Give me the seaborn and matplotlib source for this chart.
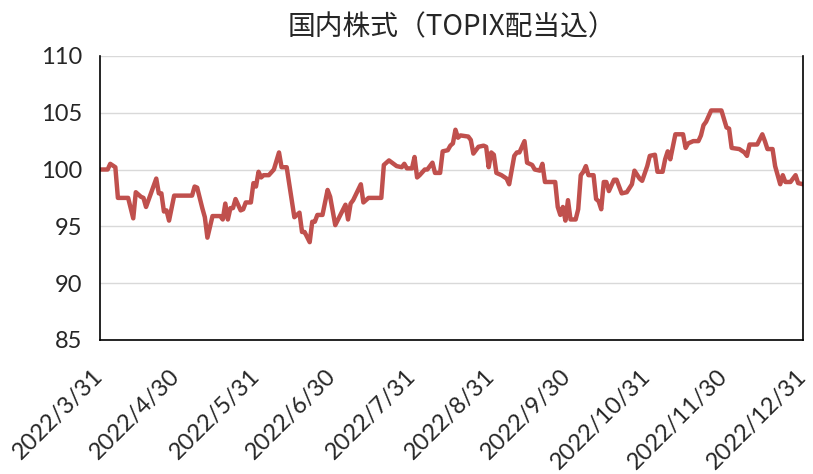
import matplotlib
matplotlib.use("Agg")
import matplotlib.pyplot as plt
import seaborn as sns
import pandas as pd

# days after 2022/3/31 and index level
days = [0, 3, 4, 6, 7, 11, 13, 14, 16, 17, 18, 22, 23, 24, 25, 26, 27, 29, 36, 37,
        38, 40, 41, 42, 44, 47, 48, 49, 50, 51, 52, 53, 55, 56, 57, 59, 60, 61, 62, 63,
        64, 66, 68, 70, 71, 73, 75, 76, 78, 79, 80, 82, 83, 84, 85, 87, 89, 90, 92, 96,
        97, 98, 99, 102, 103, 105, 110, 111, 113, 116, 118, 119, 120, 122, 123, 124, 125, 127, 128, 130,
        131, 133, 134, 136, 137, 138, 139, 140, 141, 144, 145, 146, 148, 150, 151, 152, 153, 154, 155, 157,
        159, 160, 162, 163, 164, 166, 167, 169, 170, 172, 173, 174, 178, 179, 180, 181, 182, 183, 184, 186,
        187, 188, 189, 190, 191, 193, 194, 195, 196, 197, 198, 199, 201, 202, 203, 204, 206, 208, 209, 211,
        212, 214, 215, 217, 218, 220, 221, 222, 223, 225, 228, 229, 230, 232, 234, 235, 236, 237, 239, 243,
        245, 246, 247, 250, 252, 253, 254, 257, 259, 260, 261, 263, 264, 266, 267, 268, 270, 272, 273, 275]
values = [100.0, 100.0, 100.5, 100.2, 97.5, 97.5, 95.7, 98.0, 97.6, 97.5, 96.7, 99.2, 97.9, 97.9, 96.3, 96.4, 95.5, 97.7, 97.7, 98.5,
          98.4, 96.6, 95.8, 94.0, 95.9, 95.9, 95.6, 97.0, 95.6, 96.6, 96.6, 97.4, 96.4, 96.5, 97.1, 97.1, 98.8, 98.5, 99.8, 99.3,
          99.5, 99.5, 100.0, 101.5, 100.2, 100.2, 97.3, 95.8, 96.2, 94.5, 94.5, 93.6, 95.4, 95.4, 96.0, 96.0, 98.2, 97.6, 95.1, 96.9,
          95.6, 97.0, 97.3, 98.7, 97.1, 97.5, 97.5, 100.4, 100.8, 100.3, 100.2, 100.5, 100.1, 100.1, 101.1, 99.3, 99.5, 100.0, 100.0, 100.6,
          99.7, 99.7, 101.6, 101.7, 102.1, 102.3, 103.5, 102.8, 103.0, 102.9, 102.6, 101.4, 102.0, 102.1, 102.0, 100.2, 101.5, 101.3, 99.7, 99.5,
          99.2, 98.7, 101.2, 101.5, 101.5, 102.5, 100.6, 100.4, 100.0, 99.9, 100.5, 98.9, 98.9, 96.7, 96.0, 96.7, 95.5, 97.3, 95.6, 95.6,
          96.5, 99.5, 99.8, 100.3, 99.5, 99.5, 97.4, 97.2, 96.5, 98.9, 98.9, 98.1, 99.1, 99.1, 98.5, 97.9, 98.0, 98.7, 99.9, 99.2,
          99.0, 100.3, 101.2, 101.3, 99.8, 99.8, 100.9, 101.6, 100.9, 103.1, 103.1, 101.9, 102.3, 102.5, 102.5, 103.0, 103.9, 104.2, 105.2, 105.2,
          103.7, 103.6, 101.9, 101.8, 101.5, 101.2, 102.2, 102.2, 103.1, 102.5, 101.8, 101.8, 100.3, 98.7, 99.5, 98.9, 98.9, 99.5, 98.8, 98.7]

tick_dates = ["2022-03-31", "2022-04-30", "2022-05-31", "2022-06-30", "2022-07-31",
              "2022-08-31", "2022-09-30", "2022-10-31", "2022-11-30", "2022-12-31"]

start = pd.Timestamp("2022-03-31")
df = pd.DataFrame({"date": start + pd.to_timedelta(days, unit="D"), "value": values})

sns.set_style("white")
plt.rcParams["font.family"] = ["Lato", "Noto Sans CJK JP", "DejaVu Sans"]

fig = plt.figure(figsize=(8.13, 4.74), dpi=100)
ax = fig.add_axes([0.123, 0.283, 0.865, 0.599])

sns.lineplot(data=df, x="date", y="value", ax=ax, color="#C0504D", linewidth=3.2)

ax.set_ylim(85, 110)
ax.set_yticks(range(85, 111, 5))
ax.set_xlim(pd.Timestamp(tick_dates[0]), pd.Timestamp(tick_dates[-1]))
ticks = pd.to_datetime(tick_dates)
ax.set_xticks(ticks)
ax.set_xticklabels([f"{d.year}/{d.month}/{d.day}" for d in ticks],
                   rotation=45, ha="right", va="center", rotation_mode="anchor")
ax.grid(axis="y", color="#D9D9D9", linewidth=1)
ax.set_axisbelow(True)

for side in ["left", "bottom", "right"]:
    ax.spines[side].set_color("black")
    ax.spines[side].set_linewidth(1.2)
ax.spines["top"].set_visible(False)

ax.tick_params(axis="both", direction="in", length=6, width=1, labelsize=17, color="black")
ax.tick_params(axis="y", pad=13)
ax.tick_params(axis="x", pad=24)
ax.set_xlabel("")
ax.set_ylabel("")
ax.set_title("国内株式（TOPIX配当込）", fontsize=20, pad=15,
             family=["Noto Sans CJK JP", "DejaVu Sans"])

fig.savefig("out.png", dpi=100)
